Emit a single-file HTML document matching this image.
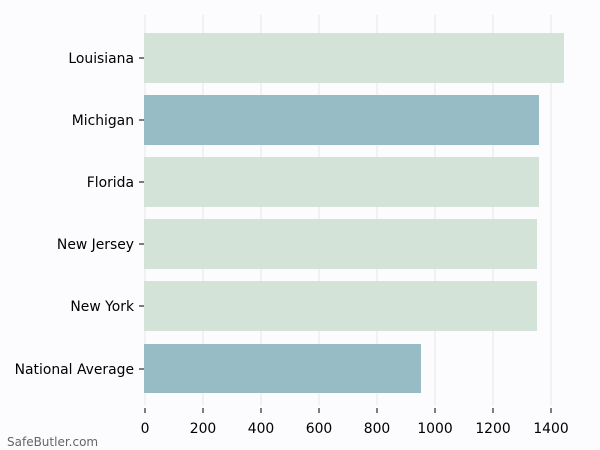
<!DOCTYPE html>
<html><head><style>
body{margin:0;background:#fcfcfe;}
svg{display:block;font-family:"DejaVu Sans","Liberation Sans",sans-serif;}
</style></head><body>
<svg width="600" height="450" viewBox="0 0 600 450">
<rect width="600" height="450" fill="#fcfcfe"/>
<g stroke="#e6e6ea" stroke-width="1">
<line x1="145" y1="15" x2="145" y2="405"/>
<line x1="203" y1="15" x2="203" y2="405"/>
<line x1="261" y1="15" x2="261" y2="405"/>
<line x1="319" y1="15" x2="319" y2="405"/>
<line x1="377" y1="15" x2="377" y2="405"/>
<line x1="435" y1="15" x2="435" y2="405"/>
<line x1="493" y1="15" x2="493" y2="405"/>
<line x1="551" y1="15" x2="551" y2="405"/>
</g>
<rect x="144" y="33" width="420" height="50" fill="#d4e3d8"/>
<rect x="144" y="95" width="395" height="50" fill="#98bcc5"/>
<rect x="144" y="157" width="395" height="50" fill="#d4e3d8"/>
<rect x="144" y="219" width="393" height="50" fill="#d4e3d8"/>
<rect x="144" y="281" width="393" height="50" fill="#d4e3d8"/>
<rect x="144" y="344" width="277" height="49" fill="#98bcc5"/>
<g stroke="#000" stroke-width="1">
<line x1="139" y1="58" x2="144" y2="58"/>
<line x1="139" y1="120" x2="144" y2="120"/>
<line x1="139" y1="182" x2="144" y2="182"/>
<line x1="139" y1="244" x2="144" y2="244"/>
<line x1="139" y1="306" x2="144" y2="306"/>
<line x1="139" y1="369" x2="144" y2="369"/>
<line x1="145" y1="408" x2="145" y2="413"/>
<line x1="203" y1="408" x2="203" y2="413"/>
<line x1="261" y1="408" x2="261" y2="413"/>
<line x1="319" y1="408" x2="319" y2="413"/>
<line x1="377" y1="408" x2="377" y2="413"/>
<line x1="435" y1="408" x2="435" y2="413"/>
<line x1="493" y1="408" x2="493" y2="413"/>
<line x1="551" y1="408" x2="551" y2="413"/>
</g>
<g font-size="13.9" fill="#000" text-anchor="end">
<text x="134" y="63">Louisiana</text>
<text x="134" y="125">Michigan</text>
<text x="134" y="187">Florida</text>
<text x="134" y="249">New Jersey</text>
<text x="134" y="311">New York</text>
<text x="134" y="374">National Average</text>
</g>
<g font-size="13.9" fill="#000" text-anchor="middle">
<text x="145" y="433">0</text>
<text x="203" y="433">200</text>
<text x="261" y="433">400</text>
<text x="319" y="433">600</text>
<text x="377" y="433">800</text>
<text x="435" y="433">1000</text>
<text x="493" y="433">1200</text>
<text x="551" y="433">1400</text>
</g>
<text x="7" y="446" font-size="12" fill="#666">SafeButler.com</text>
</svg>
</body></html>
